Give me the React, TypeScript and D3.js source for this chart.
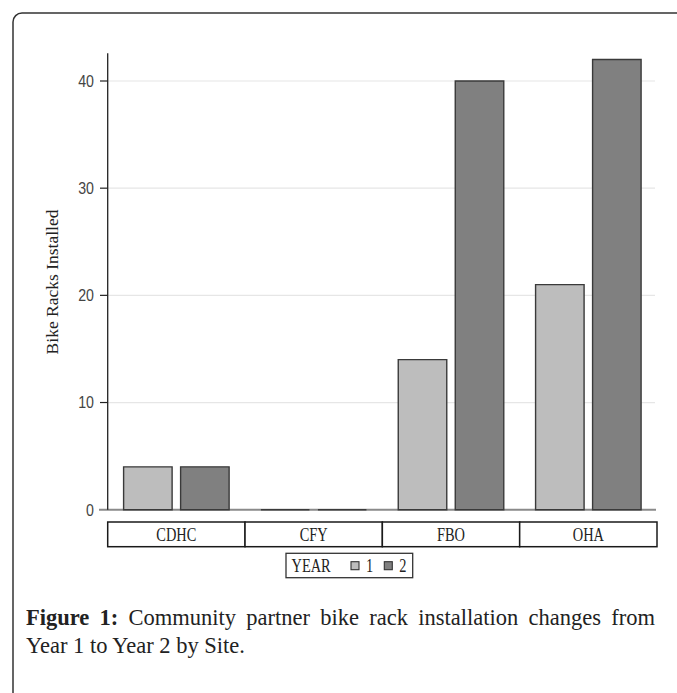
import React, { useEffect, useRef } from "react";
import * as d3 from "d3";

// Sites and bike racks installed per year
const sites = ["CDHC", "CFY", "FBO", "OHA"];
const years = ["1", "2"];
const year1Racks = [4, 0, 14, 21];
const year2Racks = [4, 0, 40, 42];
const yTicks = [0, 10, 20, 30, 40];

const yearColors: Record<string, string> = { "1": "#bdbdbd", "2": "#808080" };

const captionBold = "Figure 1:";
const captionLine1 = "Community partner bike rack installation changes from";
const captionLine2 = "Year 1 to Year 2 by Site.";

export default function App() {
  const width = 677;
  const height = 693;

  const plotLeft = 107.7;
  const plotRight = 657;
  const y0 = 509.7;
  const y40 = 81;

  const y = d3.scaleLinear().domain([0, 40]).range([y0, y40]);
  const x = d3.scaleBand<string>().domain(sites).range([plotLeft, plotRight]).paddingInner(0).paddingOuter(0);
  const xInner = d3
    .scaleBand<string>()
    .domain(years)
    .range([0, x.bandwidth()])
    .paddingInner(0.149)
    .paddingOuter(0.279);

  const rows = sites.map((s, i) => ({ site: s, values: { "1": year1Racks[i], "2": year2Racks[i] } as Record<string, number> }));

  const axisTop = y(42.6);
  const boxTop = 522;
  const boxBottom = 546.7;

  const tickFont = "'Liberation Sans', Arial, sans-serif";
  const serifFont = "'Liberation Serif', 'Times New Roman', serif";

  // justify the first caption line by stretching its word gaps
  const capRef = useRef<SVGTextElement>(null);
  useEffect(() => {
    const el = capRef.current;
    if (!el) return;
    el.setAttribute("word-spacing", "0");
    const natural = el.getComputedTextLength();
    const gaps = (captionBold + " " + captionLine1).split(" ").length - 1;
    const extra = (629 - natural) / gaps;
    el.setAttribute("word-spacing", String(extra));
  }, []);

  // condensed serif text for the category and legend labels
  const Cond = ({ x: tx, y: ty, anchor, children, size = 18 }: any) => (
    <text
      transform={`translate(${tx},${ty}) scale(0.8,1)`}
      dy="0.36em"
      textAnchor={anchor}
      fontFamily={serifFont}
      fontSize={size}
      fill="#222"
    >
      {children}
    </text>
  );

  // bar outline as a closed path so zero-height bars still show their edge
  const barPath = (bx: number, top: number, w: number) =>
    `M${bx},${y0}V${top}H${bx + w}V${y0}Z`;

  return (
    <svg
      width={width}
      height={height}
      style={{ position: "absolute", left: 0, top: 0, background: "#fff" }}
    >
      {/* frame */}
      <rect x={13} y={13} width={720} height={760} rx={9} ry={9} fill="#fff" stroke="#333" strokeWidth={1.5} />

      {/* gridlines */}
      {yTicks
        .filter((t) => t > 0)
        .map((t) => (
          <line key={"g" + t} x1={plotLeft} x2={655} y1={y(t)} y2={y(t)} stroke="#e6e6e6" strokeWidth={1.2} />
        ))}

      {/* zero baseline */}
      <line x1={99} x2={656} y1={y0} y2={y0} stroke="#8a8a8a" strokeWidth={2} />

      {/* bars */}
      {rows.map((r) =>
        years.map((yr) => {
          const v = r.values[yr];
          const bx = (x(r.site) as number) + (xInner(yr) as number);
          return (
            <path
              key={r.site + yr}
              d={barPath(bx, y(v), xInner.bandwidth())}
              fill={yearColors[yr]}
              stroke="#3a3a3a"
              strokeWidth={1.4}
            />
          );
        })
      )}

      {/* y axis */}
      <line x1={plotLeft} x2={plotLeft} y1={axisTop} y2={y0} stroke="#222" strokeWidth={1.3} />
      {yTicks.map((t) => (
        <g key={"t" + t}>
          {t > 0 && <line x1={100} x2={plotLeft} y1={y(t)} y2={y(t)} stroke="#222" strokeWidth={1.2} />}
          <text
            transform={`translate(94,${y(t)}) scale(0.86,1)`}
            dy="0.36em"
            textAnchor="end"
            fontFamily={tickFont}
            fontSize={16.5}
            fill="#444"
          >
            {t}
          </text>
        </g>
      ))}

      {/* y axis title */}
      <text
        transform={`translate(51.5,282) rotate(-90)`}
        textAnchor="middle"
        dy="0.35em"
        fontFamily={serifFont}
        fontSize={17.5}
        fill="#222"
      >
        Bike Racks Installed
      </text>

      {/* category label boxes */}
      {sites.map((s) => (
        <g key={"c" + s}>
          <rect
            x={x(s) as number}
            y={boxTop}
            width={x.bandwidth()}
            height={boxBottom - boxTop}
            fill="#fff"
            stroke="#1a1a1a"
            strokeWidth={1.5}
          />
          <Cond x={(x(s) as number) + x.bandwidth() / 2} y={(boxTop + boxBottom) / 2 + 0.5} anchor="middle">
            {s}
          </Cond>
        </g>
      ))}

      {/* legend */}
      <g>
        <rect x={286} y={553.3} width={126.7} height={24.4} fill="#fff" stroke="#333" strokeWidth={1.3} />
        <Cond x={291.5} y={566} anchor="start">YEAR</Cond>
        {years.map((yr, i) => {
          const sx = 351 + i * 33.3;
          return (
            <g key={"l" + yr}>
              <rect x={sx} y={561.7} width={8} height={8} fill={yearColors[yr]} stroke="#333" strokeWidth={1.1} />
              <Cond x={sx + 15} y={566} anchor="start">{yr}</Cond>
            </g>
          );
        })}
      </g>

      {/* caption */}
      <text ref={capRef} x={26} y={625} fontFamily={serifFont} fontSize={22.5} fill="#222">
        <tspan fontWeight="bold">{captionBold}</tspan>
        <tspan>{" " + captionLine1}</tspan>
      </text>
      <text x={26} y={653} fontFamily={serifFont} fontSize={22.5} fill="#222">
        {captionLine2}
      </text>
    </svg>
  );
}
